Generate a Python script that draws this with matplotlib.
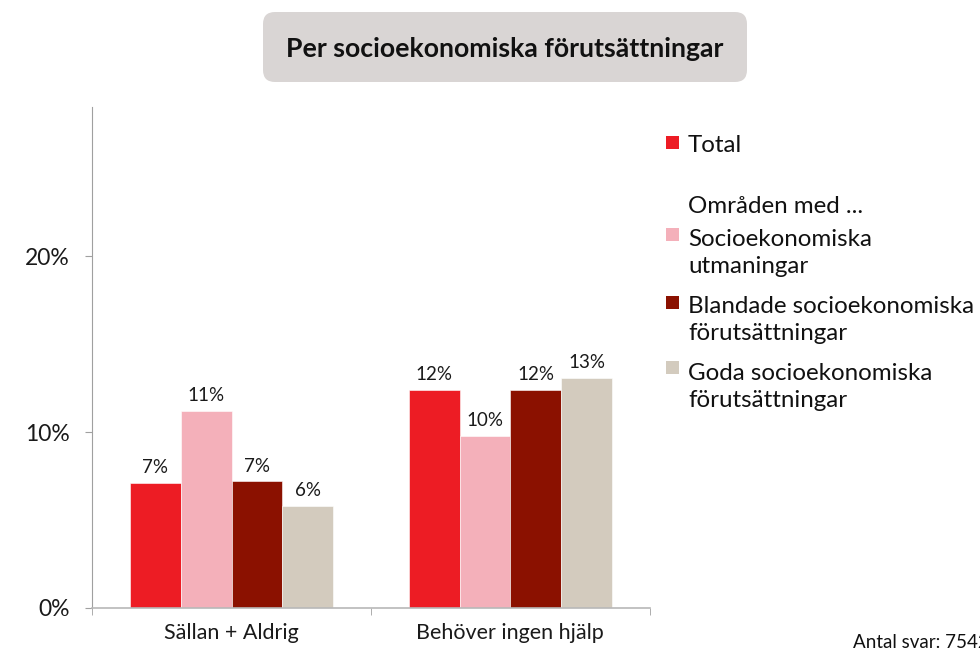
import matplotlib
matplotlib.use('Agg')
import matplotlib.pyplot as plt
import numpy as np
from matplotlib.patches import FancyBboxPatch, Rectangle

plt.rcParams['font.family'] = ['Lato', 'DejaVu Sans']

# === Data ===
kategorier = ["Sällan + Aldrig", "Behöver ingen hjälp"]
serier = ["Total", "Socioekonomiska utmaningar",
          "Blandade socioekonomiska förutsättningar",
          "Goda socioekonomiska förutsättningar"]
total = [7.1, 12.4]
utmaningar = [11.2, 9.8]
blandade = [7.2, 12.4]
goda = [5.8, 13.1]
etiketter = [["7%", "12%"], ["11%", "10%"], ["7%", "12%"], ["6%", "13%"]]
y_ticks = [0, 10, 20]
y_tick_labels = ["0%", "10%", "20%"]

farger = ["#ED1C24", "#F4B0BA", "#8B1100", "#D3CBBE"]

fig = plt.figure(figsize=(9.8, 6.52), dpi=100)
ax = fig.add_axes([0.094, 0.0675, 0.569, 0.7685])

x = np.arange(len(kategorier))
bredd = 0.182
varden = [total, utmaningar, blandade, goda]
for i, (v, f) in enumerate(zip(varden, farger)):
    pos = x + (i - 1.5) * bredd
    ax.bar(pos, v, width=bredd, color=f, edgecolor='white', linewidth=0.4)
    for xp, val, txt in zip(pos, v, etiketter[i]):
        ax.annotate(txt, (xp, val), xytext=(0, 7), textcoords='offset points',
                    ha='center', va='baseline', fontsize=13.5, color='#1a1a1a')

ax.set_xlim(-0.5, 1.5)
ax.set_ylim(0, 28.5)
ax.set_xticks(x)
ax.set_xticklabels(kategorier, fontsize=15.5, color='#1a1a1a')
ax.set_xticks([-0.5, 0.5, 1.5], minor=True)
ax.tick_params(axis='x', which='major', length=0, pad=11)
ax.tick_params(axis='x', which='minor', length=5, color='#a0a0a0')
ax.set_yticks(y_ticks)
ax.set_yticklabels(y_tick_labels, fontsize=16.5, color='#1a1a1a')
ax.tick_params(axis='y', length=5, color='#a0a0a0', pad=11)

for s in ['top', 'right']:
    ax.spines[s].set_visible(False)
ax.spines['left'].set_color('#a0a0a0')
ax.spines['bottom'].set_color('#b8b8b8')
ax.spines['bottom'].set_linewidth(1.2)

# === Titel i rundad ruta ===
box = FancyBboxPatch((2.63, 5.70), 4.84, 0.70,
                     boxstyle="round,pad=0,rounding_size=0.12",
                     transform=fig.dpi_scale_trans, facecolor='#D9D5D4',
                     edgecolor='none')
fig.add_artist(box)
fig.text(0.515, 0.913, "Per socioekonomiska förutsättningar", ha='center',
         va='baseline', fontsize=19.2, fontweight='bold', color='#111111')

# === Legend (manuell) ===
def ruta(y_px, farg):
    r = Rectangle((666 / 980, 1 - (y_px + 13) / 652), 13 / 980, 13 / 652,
                  transform=fig.transFigure, facecolor=farg, edgecolor='none')
    fig.add_artist(r)

def rad(y_px, txt):
    fig.text(688 / 980, 1 - y_px / 652, txt, ha='left', va='baseline',
             fontsize=17.4, color='#111111')

ruta(136, farger[0])
rad(152, "Total")
rad(213, "Områden med ...")
ruta(228, farger[1])
rad(246, "Socioekonomiska")
rad(273, "utmaningar")
ruta(296, farger[2])
rad(313, "Blandade socioekonomiska")
rad(340, "förutsättningar")
ruta(361, farger[3])
rad(380, "Goda socioekonomiska")
rad(407, "förutsättningar")

fig.text(853 / 980, 1 - 648 / 652, "Antal svar: 7542", ha='left',
         va='baseline', fontsize=13.5, color='#111111')

plt.savefig('out.png', dpi=100)
plt.close()
